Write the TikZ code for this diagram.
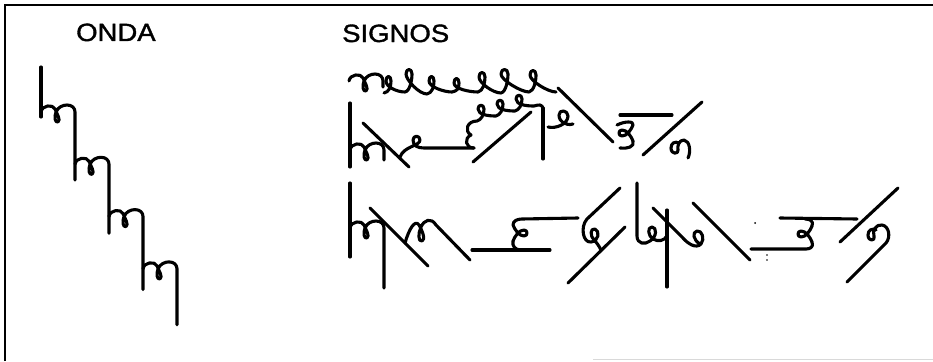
\documentclass[tikz,border=0pt]{standalone}
\usepackage{fontspec}
\newfontfamily\labelfont[FakeStretch=1.1,FakeBold=1.4]{Liberation Sans}
\usetikzlibrary{positioning}

\begin{document}
\begin{tikzpicture}[
  x=1pt, y=-1pt,
  ink/.style={line width=3.1pt, line cap=round, line join=round},
  heading/.style={font={\labelfont\fontsize{25}{30}\selectfont}, inner sep=0pt, anchor=base west},
  pics/hump/.style={code={
    \draw[ink] (0,6) .. controls (1,-1) and (12,-2) .. (14,3)
      .. controls (16,8) and (20,14) .. (17,16)
      .. controls (14,17) and (13,11) .. (15,6)
      .. controls (17,1) and (22,-1) .. (26,-1)
      .. controls (31,-1) and (34,2) .. (34,6) -- (34,#1);
  }},
  pics/curl/.style={code={
    \draw[ink] (-8,6) .. controls (-3,4) and (3,0) .. (3,-5)
      .. controls (3,-9) and (-3,-9) .. (-3,-5)
      .. controls (-3,0) and (3,4) .. (8,6);
  }}
]
\useasboundingbox (0,0) rectangle (933,361);

% frame
\draw[line width=2.5pt] (5,361) -- (5,5) -- (933,5);
\draw[gray!30, line width=1pt] (593,359.5) -- (933,359.5);

% headings
\node[heading] (onda) at (76,41) {ONDA};
\node[heading] (signos) at (342,42) {SIGNOS};

% wave
\draw[ink] (41,67) -- (41,117);
\foreach \i/\len in {0/74,1/75,2/79,3/62}
  \pic at ({41+34*\i},{106+52.3*\i}) {hump=\len};

% signs, first row
\pic at (349,75) {hump=12};
\draw[ink] (384,93) \foreach \h/\w/\a/\dy in {12/5/21/-1, 18/6/22/2, 13/5/25/-2, 9/5/26/0, 15/6/23/1, 19/7/28/-1, 17/6/27/0} {
    .. controls +(5,-1) and +(0,6) .. ++(7,-\h)
    .. controls +(0,-6) and +(0,-6) .. ++(-\w,0)
    .. controls +(0,6) and +(-8,0) .. ++(\a-7+\w,\h+\dy) };
\draw[ink] (558,88) -- (613,142);

% signs, second row
\draw[ink] (350,103) -- (350,167);
\pic at (350,144) {hump=16};
\draw[ink] (363,123) -- (409,167);
\draw[ink] (400,157) .. controls (404,146) and (420,146) .. (420,140)
  .. controls (420,135) and (413,135) .. (413,140)
  .. controls (413,146) and (418,148) .. (424,148) -- (474,148);
\draw[ink] (474,148) .. controls (465,148) and (464,138) .. (471,135)
  .. controls (464,131) and (467,121) .. (477,121)
  \foreach \k in {1,2,3} {
    .. controls +(4,-1) and +(0,6) .. ++(7,-12)
    .. controls +(0,-5) and +(0,-5) .. ++(-6,0)
    .. controls +(0,6) and +(-7,0) .. ++(18,7) }
  .. controls +(4,-1) and (543,103) .. (543,110);
\draw[ink] (473,162) -- (531,112);
\draw[ink] (543,108) -- (543,159);
\draw[ink] (548,127) .. controls (556,129) and (568,124) .. (568,116)
  .. controls (568,110) and (559,109) .. (559,115)
  .. controls (559,122) and (566,126) .. (573,124);
\draw[ink] (620,115) -- (672,115);
\pic[rotate=90] at (627,133) {curl};
\draw[ink] (617,125) .. controls (625,121) and (634,121) .. (633,125);
\draw[ink] (633,141) .. controls (635,147) and (627,149) .. (620,148);
\draw[ink] (643,155) -- (702,102);
\draw[ink] (688,158) .. controls (691,152) and (690,141) .. (684,140)
  .. controls (679,140) and (677,146) .. (678,150)
  .. controls (679,154) and (671,155) .. (671,148)
  .. controls (671,143) and (675,141) .. (679,143);

% signs, third row
\draw[ink] (350,183) -- (350,257);
\pic at (350,222) {hump=66};
\draw[ink] (370,208) -- (428,266);
\draw[ink] (405,243) .. controls (409,229) and (415,219) .. (419,225)
  .. controls (422,230) and (426,240) .. (422,241)
  .. controls (418,242) and (418,233) .. (421,227)
  .. controls (424,220) and (431,217) .. (436,225) -- (470,260);
\draw[ink] (472,250) -- (550,250);
\pic[rotate=-90] at (519,233) {curl};
\draw[ink] (521,250) .. controls (515,250) and (512,246) .. (513,241);
\draw[ink] (513,225) .. controls (513,221) and (517,219) .. (522,219) -- (578,218);
\draw[ink] (620,188) -- (587,219) .. controls (580,227) and (583,243) .. (591,242)
  .. controls (599,241) and (600,231) .. (595,229)
  .. controls (590,228) and (590,236) .. (594,240)
  .. controls (597,243) and (599,246) .. (601,250);
\draw[ink] (568,283) -- (625,227);
\draw[ink] (637,183) -- (637,236) .. controls (637,244) and (645,245) .. (650,241)
  .. controls (657,237) and (657,227) .. (652,227)
  .. controls (647,227) and (648,236) .. (653,239)
  .. controls (658,242) and (664,241) .. (667,236);
\draw[ink] (667,210) -- (667,287);
\draw[ink] (653,208) -- (682,237) .. controls (688,244) and (696,249) .. (701,244)
  .. controls (705,239) and (702,230) .. (697,231)
  .. controls (692,232) and (693,240) .. (700,244);
\draw[ink] (693,203) -- (750,260);
\fill (755,223) circle (1);
\fill (767,255) circle (0.8);
\fill (767,260) circle (0.8);
\draw[ink] (751,249) -- (806,249) .. controls (810,249) and (814,247) .. (812,242);
\pic[rotate=90] at (806,234) {curl};
\draw[ink] (812,226) .. controls (814,221) and (810,219) .. (805,219);
\draw[ink] (780,218) -- (857,219);
\draw[ink] (840,242) -- (898,188);
\draw[ink] (847,282) -- (886,243) .. controls (891,237) and (889,226) .. (882,225)
  .. controls (876,224) and (872,231) .. (874,236)
  .. controls (876,241) and (868,242) .. (868,235)
  .. controls (868,230) and (872,228) .. (876,230);
\end{tikzpicture}
\end{document}
